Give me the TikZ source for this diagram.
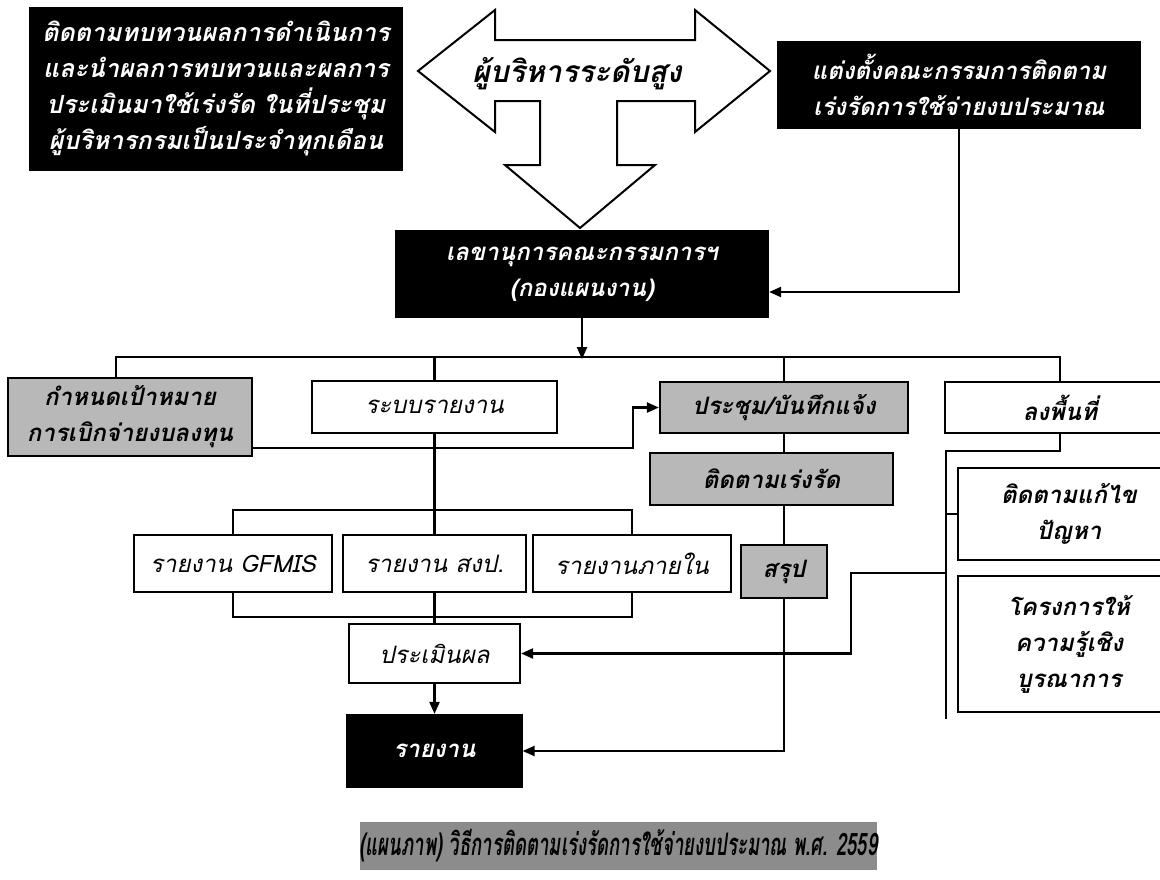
\documentclass[tikz,border=0pt]{standalone}
\usepackage{fontspec}
\newfontfamily\thaifont[Script=Thai]{Loma}
\newfontfamily\narrowfont[Script=Thai,FakeStretch=0.6]{Loma}
\newcommand\boldtext{\thaifont\fontsize{24}{36}\selectfont\bfseries\itshape}
\newcommand\lighttext{\thaifont\fontsize{24}{36}\selectfont\itshape}
\usetikzlibrary{calc,positioning,arrows.meta}
\tikzset{
  >={Triangle[length=12pt,width=10pt]},
  box/.style      = { rectangle, draw=black, line width=2.2pt, align=center,
                      inner sep=0pt, text=black },
  blackbox/.style = { box, fill=black, text=white, font=\boldtext },
  plainbox/.style = { box, fill=white, font=\lighttext },
  boldbox/.style  = { box, fill=white, font=\boldtext },
  greybox/.style  = { box, fill=black!28, font=\boldtext },
  caption/.style  = { box, draw=none, fill=black!45,
                      font=\narrowfont\fontsize{31}{34}\selectfont\bfseries\itshape },
  line/.style     = { draw, line width=2.2pt },
  arr/.style      = { line, -> },
  bigarrow/.style = { draw, line width=2pt, fill=white, line join=miter },
}
\begin{document}
\begin{tikzpicture}[x=1pt,y=-1pt]
  \useasboundingbox (0,0) rectangle (1160,879);
  \clip (0,0) rectangle (1160,879);
  % top level: board, committee and secretariat
  \node[blackbox, minimum width=372pt, minimum height=162pt,
        font=\thaifont\fontsize{25}{36}\selectfont\bfseries\itshape] (review) at (216,89)
    {ติดตามทบทวนผลการดำเนินการ\\และนำผลการทบทวนและผลการ\\ประเมินมาใช้เร่งรัด ในที่ประชุม\\ผู้บริหารกรมเป็นประจำทุกเดือน};
  \draw[bigarrow] (418,71) -- (495,10) -- (495,40) -- (695,40) -- (695,10)
    -- (770,71) -- (695,132) -- (695,101) -- (617,101) -- (617,165)
    -- (655,165) -- (580,228) -- (505,165) -- (540,165) -- (540,101)
    -- (495,101) -- (495,132) -- cycle;
  \node[font=\thaifont\fontsize{30}{36}\selectfont\bfseries\itshape] (boss) at (577,74) {ผู้บริหารระดับสูง};
  \node[blackbox, minimum width=362pt, minimum height=86pt] (committee) at (959,85)
    {แต่งตั้งคณะกรรมการติดตาม\\เร่งรัดการใช้จ่ายงบประมาณ};
  \node[blackbox, minimum width=372pt, minimum height=86pt] (secr) at (582,274)
    {เลขานุการคณะกรรมการฯ\\(กองแผนงาน)};
  \draw[arr] (committee.south) |- ($(secr.east)+(0,18)$);
  \draw[arr] (secr.south) -- ++(0,41);

  %% first row of work
  \node[greybox, minimum width=244pt, minimum height=78pt] (goal) at (130,417)
    {กำหนดเป้าหมาย\\การเบิกจ่ายงบลงทุน};
  \node[plainbox, minimum width=245pt, minimum height=52pt] (report) at (434.5,407) {ระบบรายงาน};
  \node[greybox, minimum width=248pt, minimum height=51pt] (meet) at (784,407.5) {ประชุม/บันทึกแจ้ง};
  \node[boldbox, minimum width=230pt, minimum height=51pt] (field) at (1060,407.5) {ลงพื้นที่};
  \draw[line] ($(goal.north)+(-14,0)$) -- ++(0,-20) -| (field.north);
  \draw[line] (report.north) -- ++(0,-23);
  \draw[line] (meet.north) -- ++(0,-24);
  \draw[arr] ($(goal.south east)+(0,-9)$) -- ++(380,0) |- (meet.west);

  %% reports
  \node[plainbox, minimum width=198pt, minimum height=57pt] (gfmis) at (233,563.5) {รายงาน GFMIS};
  \node[plainbox, minimum width=183pt, minimum height=57pt] (spb) at (434.5,563.5) {รายงาน สงป.};
  \node[plainbox, minimum width=198pt, minimum height=57pt] (inner) at (632,563.5) {รายงานภายใน};
  \draw[line] (report.south) -- (spb.north);
  \draw[line] (gfmis.north) -- ++(0,-24) -| (inner.north);
  \draw[line] (gfmis.south) -- ++(0,24) -| (inner.south);
  \node[plainbox, minimum width=171pt, minimum height=59pt] (evalbox) at (434.5,653.5) {ประเมินผล};
  \node[blackbox, minimum width=174pt, minimum height=72pt] (result) at (434.5,751) {รายงาน};
  \draw[line] (spb.south) -- (evalbox.north);
  \draw[arr] (evalbox.south) -- (result.north);

  %% meeting branch
  \node[greybox, minimum width=243pt, minimum height=52pt] (follow) at (771.5,479) {ติดตามเร่งรัด};
  \node[greybox, minimum width=86pt, minimum height=53pt] (summary) at (784,571.5) {สรุป};
  \draw[line] (meet.south) -- (meet.south |- follow.north);
  \draw[line] (follow.south -| meet.south) -- (summary.north);
  \draw[arr] (summary.south) |- (result.east);

  %% field branch
  \node[boldbox, minimum width=222pt, minimum height=92pt] (fix) at (1069,514) {ติดตามแก้ไข\\ปัญหา};
  \node[boldbox, minimum width=222pt, minimum height=136pt] (project) at (1069,644)
    {โครงการให้\\ความรู้เชิง\\บูรณาการ};
  \draw[line] (field.south) -- ++(0,17) -| ($(project.south west)+(-11,6)$);
  \draw[line] (fix.west) -- ++(-11,0);
  \draw[arr] ($(fix.south west)+(-11,12)$) -- ++(-95,0) |- (evalbox.east);

  % caption
  \node[caption, minimum width=467pt, minimum height=48pt] (title) at (618.5,846)
    {(แผนภาพ) วิธีการติดตามเร่งรัดการใช้จ่ายงบประมาณ พ.ศ. 2559};
\end{tikzpicture}
\end{document}
